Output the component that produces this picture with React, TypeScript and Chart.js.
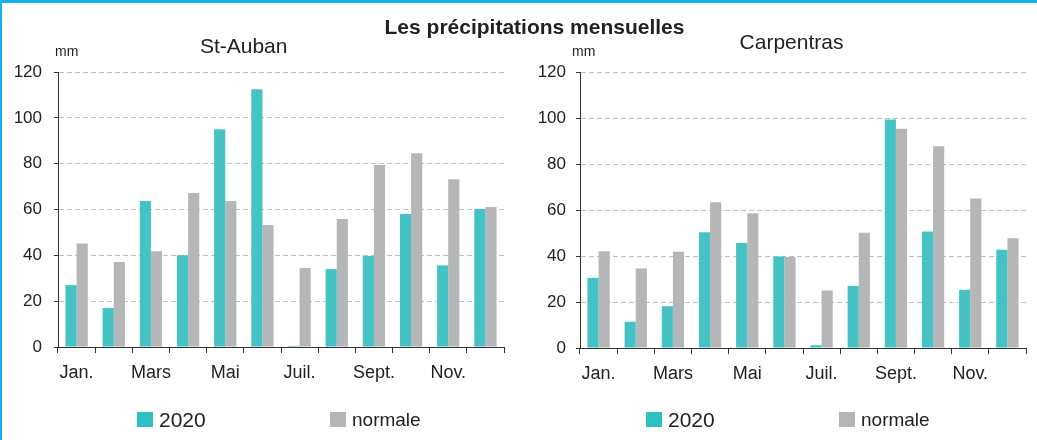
import React, { useEffect, useRef } from "react";
import { Chart, registerables } from "chart.js";

Chart.register(...registerables);

const months = ["Jan.", "Févr.", "Mars", "Avril", "Mai", "Juin", "Juil.", "Août", "Sept.", "Oct.", "Nov.", "Déc."];
const shownMonthLabels = ["Jan.", "", "Mars", "", "Mai", "", "Juil.", "", "Sept.", "", "Nov.", ""];
const yTicks = [0, 20, 40, 60, 80, 100, 120];

const stAuban2020 = [27, 17, 63.7, 40, 95, 112.5, 0.5, 34, 39.7, 58, 35.6, 60.2];
const stAubanNormale = [45.2, 37.1, 41.8, 67.2, 63.7, 53.2, 34.5, 55.9, 79.4, 84.5, 73.2, 61.1];
const carpentras2020 = [30.5, 11.4, 18.2, 50.3, 45.6, 39.8, 1.2, 27, 99.3, 50.7, 25.3, 42.7];
const carpentrasNormale = [42.1, 34.6, 41.8, 63.4, 58.6, 39.6, 25, 50.1, 95.3, 87.7, 65, 47.7];

const TEAL = "#45c3c4";
const GRAY = "#b5b6b8";
const TEAL_LEGEND = "#2ebfc0";
const GRAY_LEGEND = "#b4b5b7";
const FONT = "'Liberation Sans', Arial, Helvetica, sans-serif";

type PanelProps = {
  left: number;
  width: number;
  yAxisWidth: number;
  rightPad: number;
  top: number;
  bottom: number;
  yTickPadding: number;
  values2020: number[];
  valuesNormale: number[];
};

function Panel(p: PanelProps) {
  const ref = useRef<HTMLCanvasElement | null>(null);
  useEffect(() => {
    if (!ref.current) return;
    const H = 440;
    const chart = new Chart(ref.current, {
      type: "bar",
      data: {
        labels: months,
        datasets: [
          {
            label: "2020",
            data: p.values2020,
            backgroundColor: TEAL,
            borderWidth: 0,
            categoryPercentage: 0.6,
            barPercentage: 1.0,
          },
          {
            label: "normale",
            data: p.valuesNormale,
            backgroundColor: GRAY,
            borderWidth: 0,
            categoryPercentage: 0.6,
            barPercentage: 1.0,
          },
        ],
      },
      options: {
        responsive: false,
        animation: false,
        devicePixelRatio: 1,
        layout: { padding: { top: p.top, left: 0, right: p.rightPad, bottom: 0 } },
        plugins: { legend: { display: false }, tooltip: { enabled: false }, title: { display: false } },
        scales: {
          x: {
            grid: {
              display: true,
              drawOnChartArea: false,
              drawTicks: true,
              tickLength: 6,
              tickColor: "#333",
              offset: true,
            },
            border: { display: true, color: "#333", width: 1 },
            ticks: {
              autoSkip: false,
              maxRotation: 0,
              minRotation: 0,
              padding: 9,
              color: "#222",
              font: { family: FONT, size: 18 },
              callback: (_v: any, i: number) => shownMonthLabels[i],
            },
            afterFit: (scale: any) => {
              scale.height = H - p.bottom;
            },
          },
          y: {
            min: 0,
            max: 120,
            afterBuildTicks: (scale: any) => {
              scale.ticks = yTicks.map((v) => ({ value: v }));
            },
            grid: {
              color: "#bdbdbd",
              lineWidth: 1,
              drawTicks: true,
              tickLength: 4,
              tickColor: "#333",
              tickBorderDash: [],
            },
            border: { display: true, color: "#333", width: 1, dash: [5, 3] },
            ticks: {
              padding: p.yTickPadding,
              color: "#222",
              font: { family: FONT, size: 17 },
            },
            afterFit: (scale: any) => {
              scale.width = p.yAxisWidth;
            },
          },
        },
      },
    } as any);
    return () => chart.destroy();
  }, []);
  return (
    <canvas
      ref={ref}
      width={p.width}
      height={440}
      style={{ position: "absolute", left: p.left, top: 0, width: p.width, height: 440 }}
    />
  );
}

function Txt(props: { x: number; top: number; size: number; text: string; bold?: boolean; center?: boolean }) {
  return (
    <div
      style={{
        position: "absolute",
        left: props.x,
        top: props.top,
        fontFamily: FONT,
        fontSize: props.size,
        lineHeight: `${props.size}px`,
        fontWeight: props.bold ? "bold" : "normal",
        color: "#222",
        whiteSpace: "nowrap",
        transform: props.center ? "translateX(-50%)" : undefined,
      }}
    >
      {props.text}
    </div>
  );
}

function Legend(props: { x2020: number; xNormale: number }) {
  return (
    <>
      <div style={{ position: "absolute", left: props.x2020, top: 412, width: 16, height: 15, background: TEAL_LEGEND }} />
      <Txt x={props.x2020 + 22} top={426.7 - 0.8465 * 21} size={21} text="2020" />
      <div style={{ position: "absolute", left: props.xNormale, top: 412, width: 16, height: 15, background: GRAY_LEGEND }} />
      <Txt x={props.xNormale + 22} top={426 - 0.8465 * 19} size={19} text="normale" />
    </>
  );
}

export default function App() {
  useEffect(() => {
    document.body.style.margin = "0";
  }, []);
  return (
    <div style={{ position: "relative", width: 1037, height: 440, background: "#fff", overflow: "hidden" }}>
      <Panel
        left={0}
        width={518}
        yAxisWidth={58}
        rightPad={14}
        top={72}
        bottom={347}
        yTickPadding={12}
        values2020={stAuban2020}
        valuesNormale={stAubanNormale}
      />
      <Panel
        left={518}
        width={519}
        yAxisWidth={62}
        rightPad={11}
        top={72}
        bottom={348}
        yTickPadding={10}
        values2020={carpentras2020}
        valuesNormale={carpentrasNormale}
      />
      <Txt x={534.5} top={25.8 - 0.49 * 21} size={21} bold center text="Les précipitations mensuelles" />
      <Txt x={243.7} top={44.8 - 0.49 * 21} size={21} center text="St-Auban" />
      <Txt x={791.5} top={41.2 - 0.49 * 21} size={21} center text="Carpentras" />
      <Txt x={55} top={51.8 - 0.587 * 14} size={14} text="mm" />
      <Txt x={572} top={51.8 - 0.587 * 14} size={14} text="mm" />
      <Legend x2020={137} xNormale={330} />
      <Legend x2020={646} xNormale={839} />
      <div style={{ position: "absolute", left: 0, top: 0, width: 1037, height: 3, background: "#0fb2ee" }} />
      <div style={{ position: "absolute", left: 0, top: 0, width: 2, height: 440, background: "#0fb2ee" }} />
    </div>
  );
}
